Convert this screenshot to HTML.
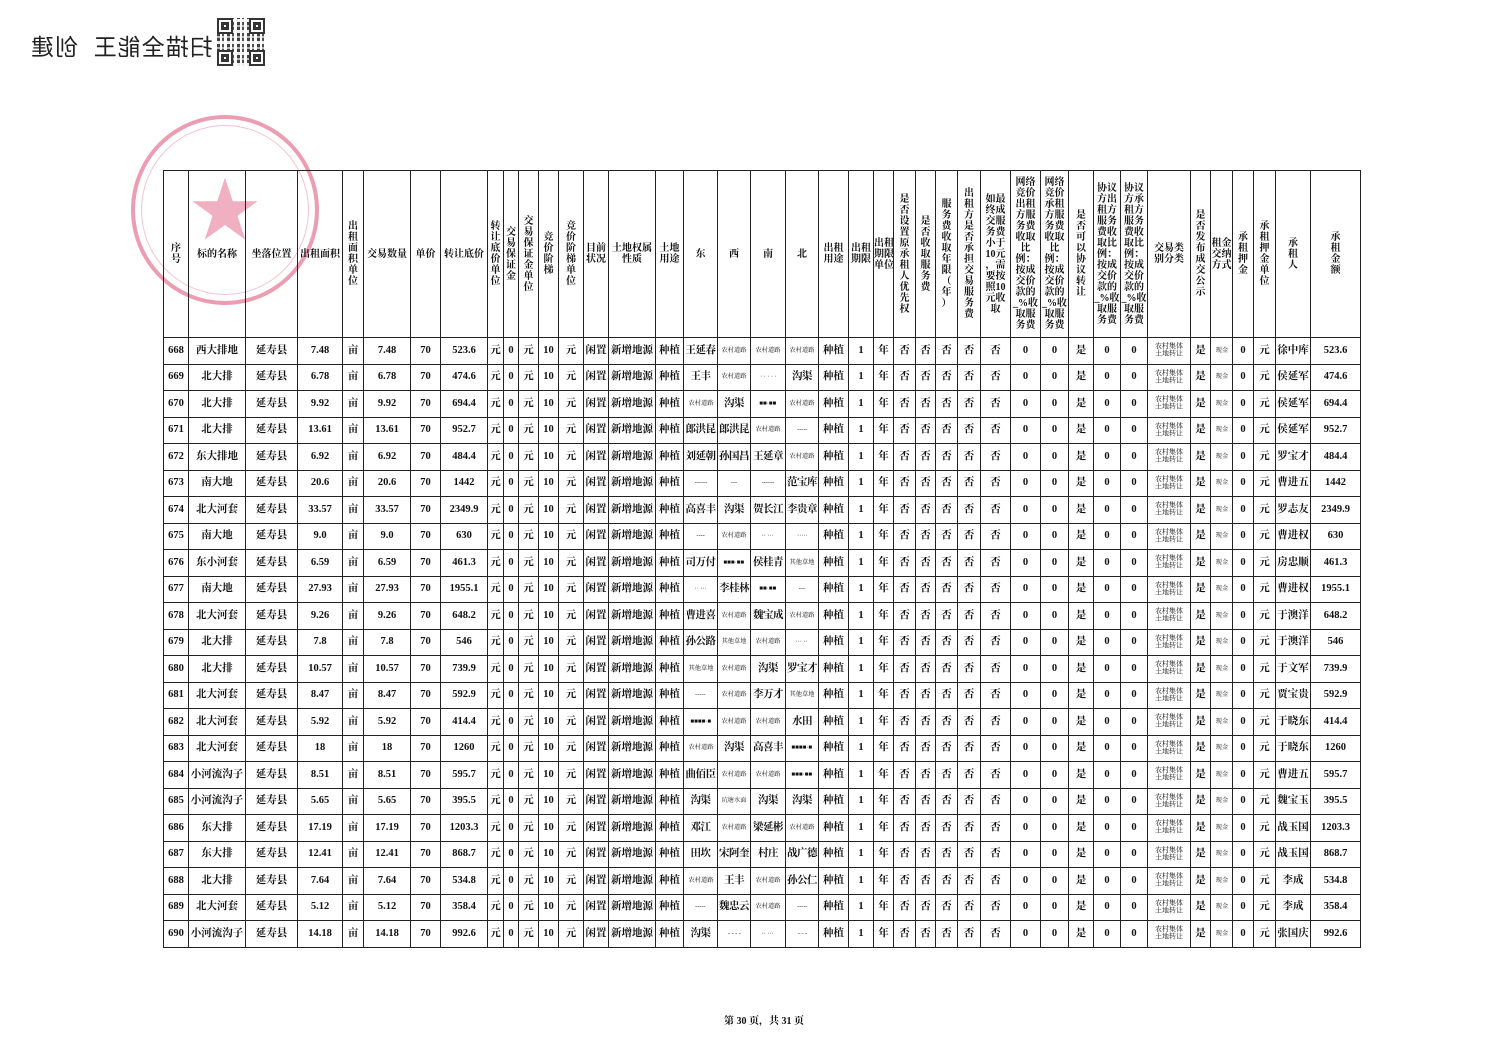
<!DOCTYPE html>
<html><head><meta charset="utf-8">
<style>
html,body{margin:0;padding:0;background:#fff;}
body{width:1500px;height:1059px;position:relative;overflow:hidden;font-family:"Liberation Serif","Noto Serif CJK SC",serif;color:#111;}
#wm{position:absolute;left:30px;top:28px;font-family:"Liberation Sans","Noto Sans CJK SC",sans-serif;font-size:23px;color:#222;transform:scaleX(-1);letter-spacing:1px;white-space:pre;}
#qr{position:absolute;left:217px;top:18px;width:48px;height:48px;background:
repeating-linear-gradient(90deg,#222 0 3px,#fff 3px 5px,#333 5px 7px,#fff 7px 10px),#fff;opacity:.85;}
#qr:before{content:"";position:absolute;inset:0;background:repeating-linear-gradient(0deg,rgba(255,255,255,.9) 0 3px,transparent 3px 6px,rgba(255,255,255,.6) 6px 8px,transparent 8px 11px);}
.fd{position:absolute;width:12px;height:12px;border:2px solid #111;background:#fff;box-shadow:inset 0 0 0 2px #fff,inset 0 0 0 5px #111;}
#stamp{position:absolute;left:131px;top:115px;width:188px;height:190px;border-radius:50%;border:4px solid rgba(220,60,100,.5);box-sizing:border-box;}
#stamp2{position:absolute;left:141px;top:125px;width:168px;height:170px;border-radius:50%;border:1px solid rgba(220,60,100,.3);box-sizing:border-box;}
#star{position:absolute;left:190px;top:178px;font-size:70px;line-height:70px;color:rgba(225,80,120,.45);}
table{position:absolute;left:163px;top:170px;width:1197px;border-collapse:collapse;table-layout:fixed;font-size:10px;font-weight:bold;}
td{border:1px solid #222;padding:0;text-align:center;vertical-align:middle;overflow:hidden;white-space:nowrap;}
tr.h td{height:166px;font-size:10px;line-height:11px;}
tr.r td{height:25.5px;font-size:10.5px;line-height:12px;}
td.k{font-size:9px;letter-spacing:-0.5px;}
i{display:inline-block;font-style:normal;font-weight:normal;transform:scale(.62);margin:0 -12px;white-space:nowrap;line-height:11px;font-size:10px;}
i.b{transform:scale(.7);line-height:11px;}
#foot{position:absolute;left:724px;top:1012px;font-size:10px;font-weight:bold;}
</style></head><body>
<div id="wm">扫描全能王  创建</div>
<div id="qr"><div class="fd" style="left:0;top:0"></div><div class="fd" style="left:32px;top:0"></div><div class="fd" style="left:0;top:32px"></div><div class="fd" style="left:32px;top:32px"></div></div>
<div id="stamp"></div><div id="stamp2"></div>
<div id="star">★</div>
<table>
<colgroup>
<col style="width:25px"><col style="width:57px"><col style="width:52px"><col style="width:45px"><col style="width:21px"><col style="width:47px"><col style="width:30px"><col style="width:47px"><col style="width:16px"><col style="width:15px"><col style="width:20px"><col style="width:20px"><col style="width:25px"><col style="width:25px"><col style="width:47px"><col style="width:28px"><col style="width:34px"><col style="width:33px"><col style="width:35px"><col style="width:33px"><col style="width:30px"><col style="width:25px"><col style="width:20px"><col style="width:22px"><col style="width:20px"><col style="width:22px"><col style="width:23px"><col style="width:30px"><col style="width:30px"><col style="width:28px"><col style="width:25px"><col style="width:27px"><col style="width:27px"><col style="width:43px"><col style="width:20px"><col style="width:22px"><col style="width:21px"><col style="width:22px"><col style="width:35px"><col style="width:50px">
</colgroup>
<tr class="h"><td>序<br>号<td>标的名称<td>坐落位置<td>出租面积<td>出<br>租<br>面<br>积<br>单<br>位<td>交易数量<td>单价<td>转让底价<td>转<br>让<br>底<br>价<br>单<br>位<td>交<br>易<br>保<br>证<br>金<td>交<br>易<br>保<br>证<br>金<br>单<br>位<td>竞<br>价<br>阶<br>梯<td>竞<br>价<br>阶<br>梯<br>单<br>位<td>目前<br>状况<td>土地权属<br>性质<td>土地<br>用途<td>东<td>西<td>南<td>北<td>出租<br>用途<td>出租<br>期限<td>出租<br>期限<br>单位<td>是<br>否<br>设<br>置<br>原<br>承<br>租<br>人<br>优<br>先<br>权<td>是<br>否<br>收<br>取<br>服<br>务<br>费<td>服<br>务<br>费<br>收<br>取<br>年<br>限<br>（<br>年<br>）<td>出<br>租<br>方<br>是<br>否<br>承<br>担<br>交<br>易<br>服<br>务<br>费<td>如最<br>终成<br>交服<br>务费<br>小于<br>10元<br>，需<br>要按<br>照10<br>元收<br>取<td>网络<br>竞价<br>出租<br>方服<br>务费<br>收取<br>比<br>例：<br>按成<br>交价<br>款的<br>_%收<br>取服<br>务费<td>网络<br>竞价<br>承租<br>方服<br>务费<br>收取<br>比<br>例：<br>按成<br>交价<br>款的<br>_%收<br>取服<br>务费<td>是<br>否<br>可<br>以<br>协<br>议<br>转<br>让<td>协议<br>方出<br>租方<br>服务<br>费收<br>取比<br>例：<br>按成<br>交价<br>款的<br>_%收<br>取服<br>务费<td>协议<br>方承<br>租方<br>服务<br>费收<br>取比<br>例：<br>按成<br>交价<br>款的<br>_%收<br>取服<br>务费<td>交易类<br>别分类<td>是<br>否<br>发<br>布<br>成<br>交<br>公<br>示<td>租金<br>交纳<br>方式<td>承<br>租<br>押<br>金<td>承<br>租<br>押<br>金<br>单<br>位<td>承<br>租<br>人<td>承<br>租<br>金<br>额</tr>
<tr class="r"><td>668<td>西大排地<td>延寿县<td>7.48<td>亩<td>7.48<td>70<td>523.6<td>元<td>0<td>元<td>10<td>元<td>闲置<td>新增地源<td>种植<td class=k>王延春<td><i>农村道路</i><td><i>农村道路</i><td><i>农村道路</i><td>种植<td>1<td>年<td>否<td>否<td>否<td>否<td>否<td>0<td>0<td>是<td>0<td>0<td><i class=b>农村集体<br>土地转让</i><td>是<td><i>现金</i><td>0<td>元<td>徐中库<td>523.6</tr>
<tr class="r"><td>669<td>北大排<td>延寿县<td>6.78<td>亩<td>6.78<td>70<td>474.6<td>元<td>0<td>元<td>10<td>元<td>闲置<td>新增地源<td>种植<td class=k>王丰<td><i>农村道路</i><td><i>· · · · ·</i><td class=k>沟渠<td>种植<td>1<td>年<td>否<td>否<td>否<td>否<td>否<td>0<td>0<td>是<td>0<td>0<td><i class=b>农村集体<br>土地转让</i><td>是<td><i>现金</i><td>0<td>元<td>侯延军<td>474.6</tr>
<tr class="r"><td>670<td>北大排<td>延寿县<td>9.92<td>亩<td>9.92<td>70<td>694.4<td>元<td>0<td>元<td>10<td>元<td>闲置<td>新增地源<td>种植<td><i>农村道路</i><td class=k>沟渠<td><i>■■·■■</i><td><i>农村道路</i><td>种植<td>1<td>年<td>否<td>否<td>否<td>否<td>否<td>0<td>0<td>是<td>0<td>0<td><i class=b>农村集体<br>土地转让</i><td>是<td><i>现金</i><td>0<td>元<td>侯延军<td>694.4</tr>
<tr class="r"><td>671<td>北大排<td>延寿县<td>13.61<td>亩<td>13.61<td>70<td>952.7<td>元<td>0<td>元<td>10<td>元<td>闲置<td>新增地源<td>种植<td class=k>郎洪昆<td class=k>郎洪昆<td><i>农村道路</i><td><i>-----</i><td>种植<td>1<td>年<td>否<td>否<td>否<td>否<td>否<td>0<td>0<td>是<td>0<td>0<td><i class=b>农村集体<br>土地转让</i><td>是<td><i>现金</i><td>0<td>元<td>侯延军<td>952.7</tr>
<tr class="r"><td>672<td>东大排地<td>延寿县<td>6.92<td>亩<td>6.92<td>70<td>484.4<td>元<td>0<td>元<td>10<td>元<td>闲置<td>新增地源<td>种植<td class=k>刘延朝<td class=k>孙国昌<td class=k>王延章<td><i>农村道路</i><td>种植<td>1<td>年<td>否<td>否<td>否<td>否<td>否<td>0<td>0<td>是<td>0<td>0<td><i class=b>农村集体<br>土地转让</i><td>是<td><i>现金</i><td>0<td>元<td>罗宝才<td>484.4</tr>
<tr class="r"><td>673<td>南大地<td>延寿县<td>20.6<td>亩<td>20.6<td>70<td>1442<td>元<td>0<td>元<td>10<td>元<td>闲置<td>新增地源<td>种植<td><i>------</i><td><i>---</i><td><i>------</i><td class=k>范宝库<td>种植<td>1<td>年<td>否<td>否<td>否<td>否<td>否<td>0<td>0<td>是<td>0<td>0<td><i class=b>农村集体<br>土地转让</i><td>是<td><i>现金</i><td>0<td>元<td>曹进五<td>1442</tr>
<tr class="r"><td>674<td>北大河套<td>延寿县<td>33.57<td>亩<td>33.57<td>70<td>2349.9<td>元<td>0<td>元<td>10<td>元<td>闲置<td>新增地源<td>种植<td class=k>高喜丰<td class=k>沟渠<td class=k>贺长江<td class=k>李贵章<td>种植<td>1<td>年<td>否<td>否<td>否<td>否<td>否<td>0<td>0<td>是<td>0<td>0<td><i class=b>农村集体<br>土地转让</i><td>是<td><i>现金</i><td>0<td>元<td>罗志友<td>2349.9</tr>
<tr class="r"><td>675<td>南大地<td>延寿县<td>9.0<td>亩<td>9.0<td>70<td>630<td>元<td>0<td>元<td>10<td>元<td>闲置<td>新增地源<td>种植<td><i>----</i><td><i>农村道路</i><td><i>·· ···</i><td><i>·····</i><td>种植<td>1<td>年<td>否<td>否<td>否<td>否<td>否<td>0<td>0<td>是<td>0<td>0<td><i class=b>农村集体<br>土地转让</i><td>是<td><i>现金</i><td>0<td>元<td>曹进权<td>630</tr>
<tr class="r"><td>676<td>东小河套<td>延寿县<td>6.59<td>亩<td>6.59<td>70<td>461.3<td>元<td>0<td>元<td>10<td>元<td>闲置<td>新增地源<td>种植<td class=k>司万付<td><i>■■■·■■</i><td class=k>侯桂青<td><i>其他草地</i><td>种植<td>1<td>年<td>否<td>否<td>否<td>否<td>否<td>0<td>0<td>是<td>0<td>0<td><i class=b>农村集体<br>土地转让</i><td>是<td><i>现金</i><td>0<td>元<td>房忠顺<td>461.3</tr>
<tr class="r"><td>677<td>南大地<td>延寿县<td>27.93<td>亩<td>27.93<td>70<td>1955.1<td>元<td>0<td>元<td>10<td>元<td>闲置<td>新增地源<td>种植<td><i>·· ···</i><td class=k>李桂林<td><i>■■·■■</i><td><i>---</i><td>种植<td>1<td>年<td>否<td>否<td>否<td>否<td>否<td>0<td>0<td>是<td>0<td>0<td><i class=b>农村集体<br>土地转让</i><td>是<td><i>现金</i><td>0<td>元<td>曹进权<td>1955.1</tr>
<tr class="r"><td>678<td>北大河套<td>延寿县<td>9.26<td>亩<td>9.26<td>70<td>648.2<td>元<td>0<td>元<td>10<td>元<td>闲置<td>新增地源<td>种植<td class=k>曹进喜<td><i>农村道路</i><td class=k>魏宝成<td><i>农村道路</i><td>种植<td>1<td>年<td>否<td>否<td>否<td>否<td>否<td>0<td>0<td>是<td>0<td>0<td><i class=b>农村集体<br>土地转让</i><td>是<td><i>现金</i><td>0<td>元<td>于澳洋<td>648.2</tr>
<tr class="r"><td>679<td>北大排<td>延寿县<td>7.8<td>亩<td>7.8<td>70<td>546<td>元<td>0<td>元<td>10<td>元<td>闲置<td>新增地源<td>种植<td class=k>孙公路<td><i>其他草地</i><td><i>农村道路</i><td><i>··· ··</i><td>种植<td>1<td>年<td>否<td>否<td>否<td>否<td>否<td>0<td>0<td>是<td>0<td>0<td><i class=b>农村集体<br>土地转让</i><td>是<td><i>现金</i><td>0<td>元<td>于澳洋<td>546</tr>
<tr class="r"><td>680<td>北大排<td>延寿县<td>10.57<td>亩<td>10.57<td>70<td>739.9<td>元<td>0<td>元<td>10<td>元<td>闲置<td>新增地源<td>种植<td><i>其他草地</i><td><i>农村道路</i><td class=k>沟渠<td class=k>罗宝才<td>种植<td>1<td>年<td>否<td>否<td>否<td>否<td>否<td>0<td>0<td>是<td>0<td>0<td><i class=b>农村集体<br>土地转让</i><td>是<td><i>现金</i><td>0<td>元<td>于文军<td>739.9</tr>
<tr class="r"><td>681<td>北大河套<td>延寿县<td>8.47<td>亩<td>8.47<td>70<td>592.9<td>元<td>0<td>元<td>10<td>元<td>闲置<td>新增地源<td>种植<td><i>-----</i><td><i>农村道路</i><td class=k>李万才<td><i>其他草地</i><td>种植<td>1<td>年<td>否<td>否<td>否<td>否<td>否<td>0<td>0<td>是<td>0<td>0<td><i class=b>农村集体<br>土地转让</i><td>是<td><i>现金</i><td>0<td>元<td>贾宝贵<td>592.9</tr>
<tr class="r"><td>682<td>北大河套<td>延寿县<td>5.92<td>亩<td>5.92<td>70<td>414.4<td>元<td>0<td>元<td>10<td>元<td>闲置<td>新增地源<td>种植<td><i>■■■■·■</i><td><i>农村道路</i><td><i>农村道路</i><td class=k>水田<td>种植<td>1<td>年<td>否<td>否<td>否<td>否<td>否<td>0<td>0<td>是<td>0<td>0<td><i class=b>农村集体<br>土地转让</i><td>是<td><i>现金</i><td>0<td>元<td>于晓东<td>414.4</tr>
<tr class="r"><td>683<td>北大河套<td>延寿县<td>18<td>亩<td>18<td>70<td>1260<td>元<td>0<td>元<td>10<td>元<td>闲置<td>新增地源<td>种植<td><i>农村道路</i><td class=k>沟渠<td class=k>高喜丰<td><i>■■■■·■</i><td>种植<td>1<td>年<td>否<td>否<td>否<td>否<td>否<td>0<td>0<td>是<td>0<td>0<td><i class=b>农村集体<br>土地转让</i><td>是<td><i>现金</i><td>0<td>元<td>于晓东<td>1260</tr>
<tr class="r"><td>684<td>小河流沟子<td>延寿县<td>8.51<td>亩<td>8.51<td>70<td>595.7<td>元<td>0<td>元<td>10<td>元<td>闲置<td>新增地源<td>种植<td class=k>曲佰臣<td><i>农村道路</i><td><i>农村道路</i><td><i>■■■·■■</i><td>种植<td>1<td>年<td>否<td>否<td>否<td>否<td>否<td>0<td>0<td>是<td>0<td>0<td><i class=b>农村集体<br>土地转让</i><td>是<td><i>现金</i><td>0<td>元<td>曹进五<td>595.7</tr>
<tr class="r"><td>685<td>小河流沟子<td>延寿县<td>5.65<td>亩<td>5.65<td>70<td>395.5<td>元<td>0<td>元<td>10<td>元<td>闲置<td>新增地源<td>种植<td class=k>沟渠<td><i>坑塘水面</i><td class=k>沟渠<td class=k>沟渠<td>种植<td>1<td>年<td>否<td>否<td>否<td>否<td>否<td>0<td>0<td>是<td>0<td>0<td><i class=b>农村集体<br>土地转让</i><td>是<td><i>现金</i><td>0<td>元<td>魏宝玉<td>395.5</tr>
<tr class="r"><td>686<td>东大排<td>延寿县<td>17.19<td>亩<td>17.19<td>70<td>1203.3<td>元<td>0<td>元<td>10<td>元<td>闲置<td>新增地源<td>种植<td class=k>邓江<td><i>农村道路</i><td class=k>梁延彬<td><i>农村道路</i><td>种植<td>1<td>年<td>否<td>否<td>否<td>否<td>否<td>0<td>0<td>是<td>0<td>0<td><i class=b>农村集体<br>土地转让</i><td>是<td><i>现金</i><td>0<td>元<td>战玉国<td>1203.3</tr>
<tr class="r"><td>687<td>东大排<td>延寿县<td>12.41<td>亩<td>12.41<td>70<td>868.7<td>元<td>0<td>元<td>10<td>元<td>闲置<td>新增地源<td>种植<td class=k>田坎<td class=k>宋阿奎<td class=k>村庄<td class=k>战广德<td>种植<td>1<td>年<td>否<td>否<td>否<td>否<td>否<td>0<td>0<td>是<td>0<td>0<td><i class=b>农村集体<br>土地转让</i><td>是<td><i>现金</i><td>0<td>元<td>战玉国<td>868.7</tr>
<tr class="r"><td>688<td>北大排<td>延寿县<td>7.64<td>亩<td>7.64<td>70<td>534.8<td>元<td>0<td>元<td>10<td>元<td>闲置<td>新增地源<td>种植<td><i>农村道路</i><td class=k>王丰<td><i>农村道路</i><td class=k>孙公仁<td>种植<td>1<td>年<td>否<td>否<td>否<td>否<td>否<td>0<td>0<td>是<td>0<td>0<td><i class=b>农村集体<br>土地转让</i><td>是<td><i>现金</i><td>0<td>元<td>李成<td>534.8</tr>
<tr class="r"><td>689<td>北大河套<td>延寿县<td>5.12<td>亩<td>5.12<td>70<td>358.4<td>元<td>0<td>元<td>10<td>元<td>闲置<td>新增地源<td>种植<td><i>-----</i><td class=k>魏忠云<td><i>农村道路</i><td><i>-----</i><td>种植<td>1<td>年<td>否<td>否<td>否<td>否<td>否<td>0<td>0<td>是<td>0<td>0<td><i class=b>农村集体<br>土地转让</i><td>是<td><i>现金</i><td>0<td>元<td>李成<td>358.4</tr>
<tr class="r"><td>690<td>小河流沟子<td>延寿县<td>14.18<td>亩<td>14.18<td>70<td>992.6<td>元<td>0<td>元<td>10<td>元<td>闲置<td>新增地源<td>种植<td class=k>沟渠<td><i>- - - -</i><td><i>·· ···</i><td><i>- - -</i><td>种植<td>1<td>年<td>否<td>否<td>否<td>否<td>否<td>0<td>0<td>是<td>0<td>0<td><i class=b>农村集体<br>土地转让</i><td>是<td><i>现金</i><td>0<td>元<td>张国庆<td>992.6</tr>
</table>
<div id="foot">第 30 页，共 31 页</div>
</body></html>
